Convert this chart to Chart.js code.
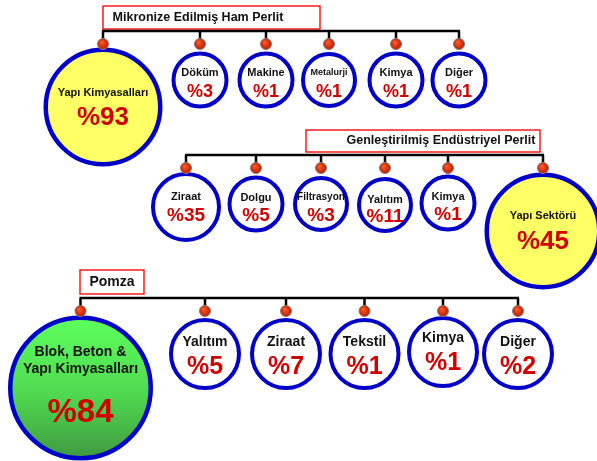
<!DOCTYPE html>
<html>
<head>
<meta charset="utf-8">
<script src="https://cdn.jsdelivr.net/npm/chart.js@4.4.1/dist/chart.umd.min.js"></script>
<style>
  html, body { margin: 0; padding: 0; background: #fff; }
  canvas { display: block; }
</style>
</head>
<body>
<canvas id="sema" width="597" height="461"></canvas>
<script>
// grup basliklari ve kullanim alanlari (%)
const gruplar = ['Mikronize Edilmiş Ham Perlit', 'Genleştirilmiş Endüstriyel Perlit', 'Pomza'];

const hamPerlitAlan = ['Yapı Kimyasalları', 'Döküm', 'Makine', 'Metalurji', 'Kimya', 'Diğer'];
const hamPerlitPay = [93, 3, 1, 1, 1, 1];

const genlesmisAlan = ['Ziraat', 'Dolgu', 'Filtrasyon', 'Yalıtım', 'Kimya', 'Yapı Sektörü'];
const genlesmisPay = [35, 5, 3, 11, 1, 45];

const pomzaAlan = ['Blok, Beton &\nYapı Kimyasalları', 'Yalıtım', 'Ziraat', 'Tekstil', 'Kimya', 'Diğer'];
const pomzaPay = [84, 5, 7, 1, 1, 2];

const alanlar = [hamPerlitAlan, genlesmisAlan, pomzaAlan];
const paylar = [hamPerlitPay, genlesmisPay, pomzaPay];

// yerlesim: kutu [x, y, w, h], baglanti hatti, daire merkezleri ve yaricaplari
const yerlesim = [
  {
    kutu: [103, 6, 217, 23], baslikX: 198, baslikY: 18, baslikPx: 12.5,
    hatY: 31, topY: 44,
    x: [103, 200, 266, 329, 396, 459],
    y: [107, 80, 80, 80, 80, 80],
    r: [59.5, 28.5, 28.5, 28, 28.5, 28.5],
    etiketDy: [-14, -7, -7, -7, -7, -7],
    degerDy: [11, 12, 12, 12, 12, 12],
    etiketPx: [11, 11, 11, 9, 11, 11],
    degerPx: [26, 18, 18, 18, 18, 18],
    vurgu: 0, vurguRenk: '#ffff66'
  },
  {
    kutu: [306, 130, 234, 22], baslikX: 441, baslikY: 141, baslikPx: 12.5,
    hatY: 155, topY: 168,
    x: [186, 256, 321, 385, 448, 543],
    y: [207, 204, 204, 205, 203, 231],
    r: [35, 28.5, 28, 28, 28.5, 58.5],
    etiketDy: [-10, -6, -7, -5, -6, -15],
    degerDy: [9, 12, 12, 12, 12, 11],
    etiketPx: [11, 11, 10, 11, 11, 11],
    degerPx: [19, 19, 19, 19, 19, 26],
    vurgu: 5, vurguRenk: '#ffff66'
  },
  {
    kutu: [80, 270, 64, 24], baslikX: 112, baslikY: 282, baslikPx: 14,
    hatY: 298, topY: 311,
    x: [80.5, 205, 286, 364.5, 443, 518],
    y: [388, 354, 354, 354, 352, 354],
    r: [72.5, 36, 36, 36, 36, 36],
    etiketDy: [-27, -12, -12, -12, -14, -12],
    degerDy: [25, 13, 13, 13, 11, 13],
    etiketPx: [14, 14, 14, 14, 14, 14],
    degerPx: [33, 25, 25, 25, 25, 25],
    vurgu: 0, vurguRenk: 'yesil'
  }
];

const daireler = [];
const toplar = [];
yerlesim.forEach((g, gi) => {
  paylar[gi].forEach((v, i) => {
    const bw = i === g.vurgu ? 4.5 : 4;
    daireler.push({ x: g.x[i], y: g.y[i], r: g.r[i] - bw / 2, bw: bw, grup: gi, i: i });
    toplar.push({ x: g.x[i], y: g.topY, r: 5.5 });
  });
});

function daireRengi(c) {
  const p = c.raw;
  if (!p) return '#fff';
  const g = yerlesim[p.grup];
  if (p.i !== g.vurgu) return '#ffffff';
  if (g.vurguRenk !== 'yesil') return g.vurguRenk;
  const chart = c.chart;
  if (!chart.chartArea) return '#55ee55';
  const cy = chart.scales.y.getPixelForValue(p.y);
  const grad = chart.ctx.createLinearGradient(0, cy - p.r, 0, cy + p.r);
  grad.addColorStop(0, '#5cff5c');
  grad.addColorStop(0.55, '#50d850');
  grad.addColorStop(1, '#3f9a3f');
  return grad;
}

// kirmizi baglanti toplari, hafif parlak
function topRengi(c) {
  const p = c.raw;
  const chart = c.chart;
  if (!p || !chart.chartArea) return '#d42a05';
  const cx = chart.scales.x.getPixelForValue(p.x);
  const cy = chart.scales.y.getPixelForValue(p.y);
  const grad = chart.ctx.createRadialGradient(cx - 1.5, cy - 2, 0.5, cx, cy, p.r);
  grad.addColorStop(0, '#ff5a2a');
  grad.addColorStop(1, '#b81e00');
  return grad;
}

const font = px => 'bold ' + px + 'px "Liberation Sans", Arial, sans-serif';

const semaCizim = {
  id: 'semaCizim',
  beforeDatasetsDraw(chart) {
    const ctx = chart.ctx;
    const sx = v => chart.scales.x.getPixelForValue(v);
    const sy = v => chart.scales.y.getPixelForValue(v);
    ctx.save();
    yerlesim.forEach((g, gi) => {
      // baslik kutusu
      const [bx, by, bw, bh] = g.kutu;
      ctx.fillStyle = '#fff';
      ctx.fillRect(sx(bx), sy(by), bw, bh);
      ctx.strokeStyle = '#ff1a1a';
      ctx.lineWidth = 1.5;
      ctx.strokeRect(sx(bx), sy(by), bw, bh);
      ctx.fillStyle = '#111';
      ctx.font = font(g.baslikPx);
      ctx.textAlign = 'center';
      ctx.textBaseline = 'middle';
      ctx.fillText(gruplar[gi], sx(g.baslikX), sy(g.baslikY));

      // baglanti hatlari
      ctx.strokeStyle = '#000';
      ctx.lineWidth = 2.5;
      ctx.beginPath();
      ctx.moveTo(sx(Math.min(...g.x)) - 1, sy(g.hatY));
      ctx.lineTo(sx(Math.max(...g.x)) + 1, sy(g.hatY));
      g.x.forEach(x => {
        ctx.moveTo(sx(x), sy(g.hatY));
        ctx.lineTo(sx(x), sy(g.topY));
      });
      ctx.stroke();
    });
    ctx.restore();
  },
  afterDatasetsDraw(chart) {
    const ctx = chart.ctx;
    const sx = v => chart.scales.x.getPixelForValue(v);
    const sy = v => chart.scales.y.getPixelForValue(v);
    ctx.save();
    ctx.textAlign = 'center';
    ctx.textBaseline = 'middle';
    yerlesim.forEach((g, gi) => {
      alanlar[gi].forEach((ad, i) => {
        const cx = sx(g.x[i]);
        const cy = sy(g.y[i]);
        ctx.fillStyle = '#111';
        ctx.font = font(g.etiketPx[i]);
        const satirlar = ad.split('\n');
        const ara = g.etiketPx[i] + 3;
        satirlar.forEach((s, k) => {
          ctx.fillText(s, cx, cy + g.etiketDy[i] + (k - (satirlar.length - 1) / 2) * ara);
        });
        ctx.fillStyle = '#d00000';
        ctx.font = font(g.degerPx[i]);
        ctx.fillText('%' + paylar[gi][i], cx, cy + g.degerDy[i]);
      });
    });
    ctx.restore();
  }
};

new Chart(document.getElementById('sema'), {
  type: 'bubble',
  data: {
    datasets: [
      {
        label: 'baglanti',
        data: toplar,
        order: 0,
        clip: false,
        backgroundColor: topRengi,
        borderColor: '#8c7a74',
        borderWidth: 1
      },
      {
        label: 'alanlar',
        data: daireler,
        order: 1,
        clip: false,
        backgroundColor: daireRengi,
        borderColor: '#0000c8',
        borderWidth: c => (c.raw ? c.raw.bw : 4)
      }
    ]
  },
  plugins: [semaCizim],
  options: {
    responsive: false,
    animation: false,
    events: [],
    layout: { padding: 0, autoPadding: false },
    plugins: { legend: { display: false }, tooltip: { enabled: false } },
    scales: {
      x: { type: 'linear', min: 0, max: 597, display: false },
      y: { type: 'linear', min: 0, max: 461, reverse: true, display: false }
    }
  }
});
</script>
</body>
</html>
